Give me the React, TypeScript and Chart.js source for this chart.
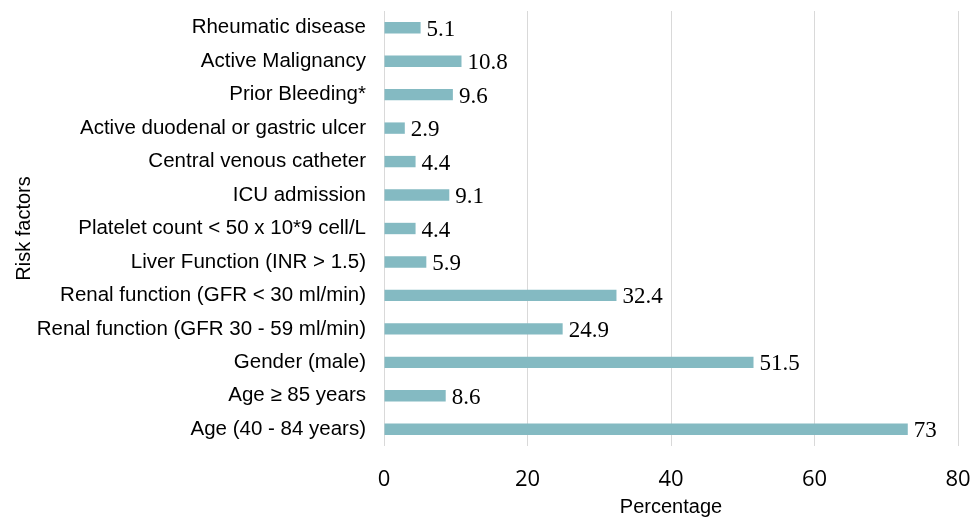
import React, { useEffect, useRef } from "react";
import { Chart, registerables } from "chart.js";

Chart.register(...registerables);

const categories: string[] = [
  "Rheumatic disease",
  "Active Malignancy",
  "Prior Bleeding*",
  "Active duodenal or gastric ulcer",
  "Central venous catheter",
  "ICU admission",
  "Platelet count < 50 x 10*9 cell/L",
  "Liver Function (INR > 1.5)",
  "Renal function (GFR < 30 ml/min)",
  "Renal function (GFR 30 - 59 ml/min)",
  "Gender (male)",
  "Age \u2265 85 years",
  "Age (40 - 84 years)",
];

const values: number[] = [5.1, 10.8, 9.6, 2.9, 4.4, 9.1, 4.4, 5.9, 32.4, 24.9, 51.5, 8.6, 73];

const xTicks: number[] = [0, 20, 40, 60, 80];

const BAR_COLOR = "#84BAC2";
const SANS = "'Liberation Sans', Arial, sans-serif";
const TICK_SANS = "'Open Sans', 'Liberation Sans', sans-serif";
const SERIF = "'Liberation Serif', 'Times New Roman', serif";

const valueLabels = {
  id: "valueLabels",
  afterDatasetsDraw(chart: any) {
    const ctx = chart.ctx;
    const meta = chart.getDatasetMeta(0);
    ctx.save();
    ctx.font = `23px ${SERIF}`;
    ctx.fillStyle = "#000000";
    ctx.textAlign = "left";
    ctx.textBaseline = "middle";
    meta.data.forEach((bar: any, i: number) => {
      ctx.fillText(String(values[i]), bar.x + 6, bar.y + 2);
    });
    ctx.restore();
  },
};

export default function App() {
  const ref = useRef<HTMLCanvasElement | null>(null);

  useEffect(() => {
    if (!ref.current) return;
    const chart = new Chart(ref.current, {
      type: "bar",
      data: {
        labels: categories,
        datasets: [
          {
            data: values,
            backgroundColor: BAR_COLOR,
            barPercentage: 0.68,
            categoryPercentage: 0.5,
          },
        ],
      },
      options: {
        indexAxis: "y",
        animation: false,
        responsive: false,
        maintainAspectRatio: false,
        layout: { padding: { top: 11, right: 14, left: 0, bottom: 0 } },
        plugins: {
          legend: { display: false },
          tooltip: { enabled: false },
        },
        scales: {
          x: {
            min: 0,
            max: 80,
            afterBuildTicks: (scale: any) => {
              scale.ticks = xTicks.map((v) => ({ value: v }));
            },
            afterFit: (scale: any) => {
              scale.height = 71;
              scale.paddingLeft = 0;
              scale.paddingRight = 0;
            },
            grid: { color: "#D9D9D9", drawTicks: false, lineWidth: 1 },
            border: { display: false },
            ticks: {
              padding: 21,
              color: "#000000",
              font: { size: 22, family: TICK_SANS },
            },
            title: {
              display: true,
              text: "Percentage",
              color: "#000000",
              font: { size: 20, family: SANS, lineHeight: 1.0 },
              padding: { top: 2, bottom: 0 },
            },
          },
          y: {
            afterFit: (scale: any) => {
              scale.width = 384;
              scale.paddingTop = 0;
              scale.paddingBottom = 0;
            },
            grid: { display: false, drawTicks: false },
            border: { display: false },
            ticks: {
              padding: 18,
              color: "#000000",
              autoSkip: false,
              font: { size: 20.5, family: SANS },
            },
            title: {
              display: true,
              text: "Risk factors",
              color: "#000000",
              font: { size: 20, family: SANS },
              padding: { top: 12, bottom: 0 },
            },
          },
        },
      },
      plugins: [valueLabels],
    });
    return () => chart.destroy();
  }, []);

  return (
    <div style={{ position: "absolute", left: 0, top: 0, width: 972, height: 517, background: "#fff" }}>
      <canvas ref={ref} width={972} height={517} style={{ width: 972, height: 517, display: "block" }} />
    </div>
  );
}
